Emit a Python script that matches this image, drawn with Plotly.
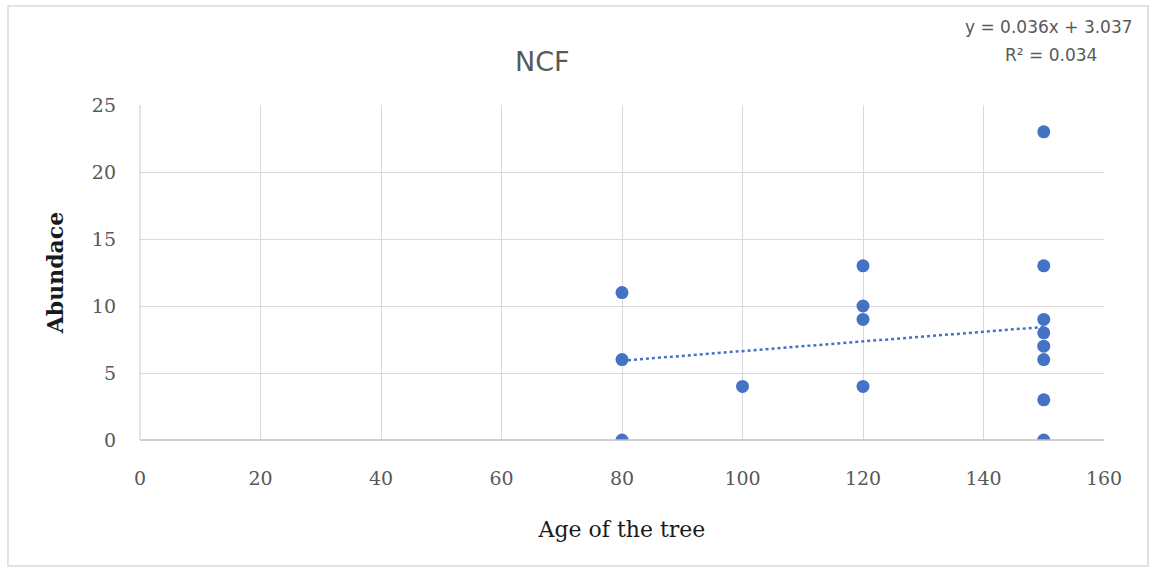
import plotly.graph_objects as go

# Tree age (years) and observed abundance
age = [80, 80, 80, 100, 120, 120, 120, 120, 150, 150, 150, 150, 150, 150, 150, 150]
abundance = [11, 6, 0, 4, 13, 10, 9, 4, 23, 13, 9, 8, 7, 6, 3, 0]

# Linear trendline coefficients
slope = 0.036
intercept = 3.037
r_squared = 0.034

x_ticks = [0, 20, 40, 60, 80, 100, 120, 140, 160]
y_ticks = [0, 5, 10, 15, 20, 25]

W, H = 1156, 574
L, R, T, B = 140, 52, 105, 134
PW, PH = W - L - R, H - T - B


def px_x(px):
    return (px - L) / PW


def px_y(py):
    return (H - B - py) / PH


trend_x = [min(age), max(age)]
trend_y = [slope * v + intercept for v in trend_x]

fig = go.Figure()
fig.add_trace(go.Scatter(
    x=trend_x, y=trend_y, mode="lines",
    line=dict(color="#4472C4", width=2.5, dash="dot"),
    showlegend=False, hoverinfo="skip",
))
fig.add_trace(go.Scatter(
    x=age, y=abundance, mode="markers",
    marker=dict(color="#4472C4", size=13, line=dict(width=0)),
    showlegend=False,
))

serif = "DejaVu Serif, serif"
sans = "DejaVu Sans, sans-serif"

fig.update_layout(
    width=W, height=H,
    margin=dict(l=L, r=R, t=T, b=B),
    paper_bgcolor="white", plot_bgcolor="white",
    xaxis=dict(
        range=[0, 160], tickvals=x_ticks, ticktext=[str(v) for v in x_ticks],
        showgrid=True, gridcolor="#D9D9D9", gridwidth=1,
        zeroline=False, showline=False, ticks="",
        tickfont=dict(family=serif, size=19, color="#595959"),
        ticklabelstandoff=25,
        title=dict(text="Age of the tree", standoff=33,
                   font=dict(family=serif, size=22, color="#1a1a1a")),
    ),
    yaxis=dict(
        range=[0, 25], tickvals=y_ticks, ticktext=[str(v) for v in y_ticks],
        showgrid=True, gridcolor="#D9D9D9", gridwidth=1,
        zeroline=False, showline=False, ticks="",
        tickfont=dict(family=serif, size=19, color="#595959"),
        ticklabelstandoff=23,
        title=dict(text="<b>Abundace</b>", standoff=22,
                   font=dict(family=serif, size=22, color="#1a1a1a")),
    ),
    shapes=[
        # chart frame
        dict(type="rect", xref="paper", yref="paper",
             x0=px_x(8), x1=px_x(1148), y0=px_y(566), y1=px_y(6),
             line=dict(color="#D9D9D9", width=1.5), fillcolor="rgba(0,0,0,0)"),
        # axis lines
        dict(type="line", xref="paper", yref="paper", x0=0, x1=1, y0=0, y1=0,
             line=dict(color="#BFBFBF", width=1.5)),
        dict(type="line", xref="paper", yref="paper", x0=0, x1=0, y0=0, y1=1,
             line=dict(color="#D0D0D0", width=1.2)),
    ],
    annotations=[
        dict(text="NCF", xref="paper", yref="paper",
             x=px_x(542), y=px_y(62), xanchor="center", yanchor="middle",
             showarrow=False, font=dict(family=sans, size=27, color="#595959")),
        dict(text=f"y = {slope:.3f}x + {intercept:.3f}",
             xref="paper", yref="paper", x=px_x(1049), y=px_y(27),
             xanchor="center", yanchor="middle", showarrow=False,
             font=dict(family=sans, size=17, color="#595959")),
        dict(text=f"R² = {r_squared:.3f}",
             xref="paper", yref="paper", x=px_x(1051), y=px_y(55),
             xanchor="center", yanchor="middle", showarrow=False,
             font=dict(family=sans, size=17, color="#595959")),
    ],
)

fig.write_html("out.html")
